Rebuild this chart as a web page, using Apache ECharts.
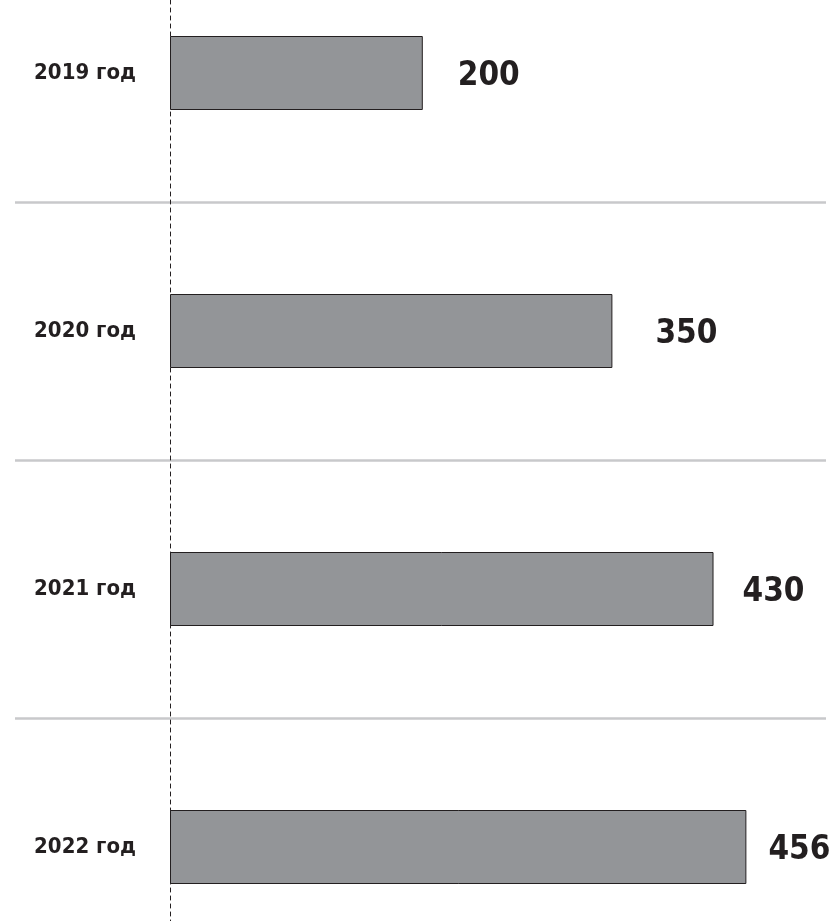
<!DOCTYPE html>
<html>
<head>
<meta charset="utf-8">
<style>html,body{margin:0;padding:0;background:#fff;}#c{width:830px;height:921px;}</style>
<script src="https://cdn.jsdelivr.net/npm/echarts@6/dist/echarts.min.js"></script>
</head>
<body>
<div id="c"></div>
<script>
const categories = ['2019 год', '2020 год', '2021 год', '2022 год'];
const values = [200, 350, 430, 456];

const FONT = "'Liberation Sans Narrow', 'DejaVu Sans Condensed', 'Roboto Condensed', sans-serif";
const labelDistances = [35, 43, 29, 22];
const chart = echarts.init(document.getElementById('c'));
chart.setOption({
  animation: false,
  backgroundColor: '#ffffff',
  grid: [
    { left: 15, right: 4, top: -56, height: 1032, outerBoundsMode: 'none', containLabel: false },
    { left: 170, right: 28, top: -56, height: 1032, outerBoundsMode: 'none', containLabel: false }
  ],
  xAxis: [
    { gridIndex: 0, type: 'value', show: false, min: 0, max: 1 },
    { gridIndex: 1, type: 'value', show: false, min: 0, max: 500 }
  ],
  yAxis: [
    {
      gridIndex: 0, type: 'category', data: categories, inverse: true,
      axisLine: { show: false }, axisTick: { show: false }, axisLabel: { show: false },
      splitLine: { show: true, lineStyle: { color: '#c8c9cb', width: 2.5 } }
    },
    {
      gridIndex: 1, type: 'category', data: categories, inverse: true,
      axisLine: { show: true, lineStyle: { color: '#231f20', width: 1, type: [4, 4] } },
      axisTick: { show: false },
      splitLine: { show: false },
      axisLabel: {
        show: true, margin: 34, color: '#231f20', fontFamily: FONT,
        fontWeight: 'bold', fontSize: 22
      }
    }
  ],
  series: [{
    type: 'bar',
    xAxisIndex: 1, yAxisIndex: 1,
    data: values.map((v, i) => ({ value: v, label: { distance: labelDistances[i] } })),
    barWidth: 74,
    itemStyle: { color: '#939598', borderColor: '#231f20', borderWidth: 1 },
    label: {
      show: true, position: 'right', offset: [0, 3],
      color: '#231f20', fontFamily: FONT, fontWeight: 'bold', fontSize: 33
    }
  }]
});
</script>
</body>
</html>
